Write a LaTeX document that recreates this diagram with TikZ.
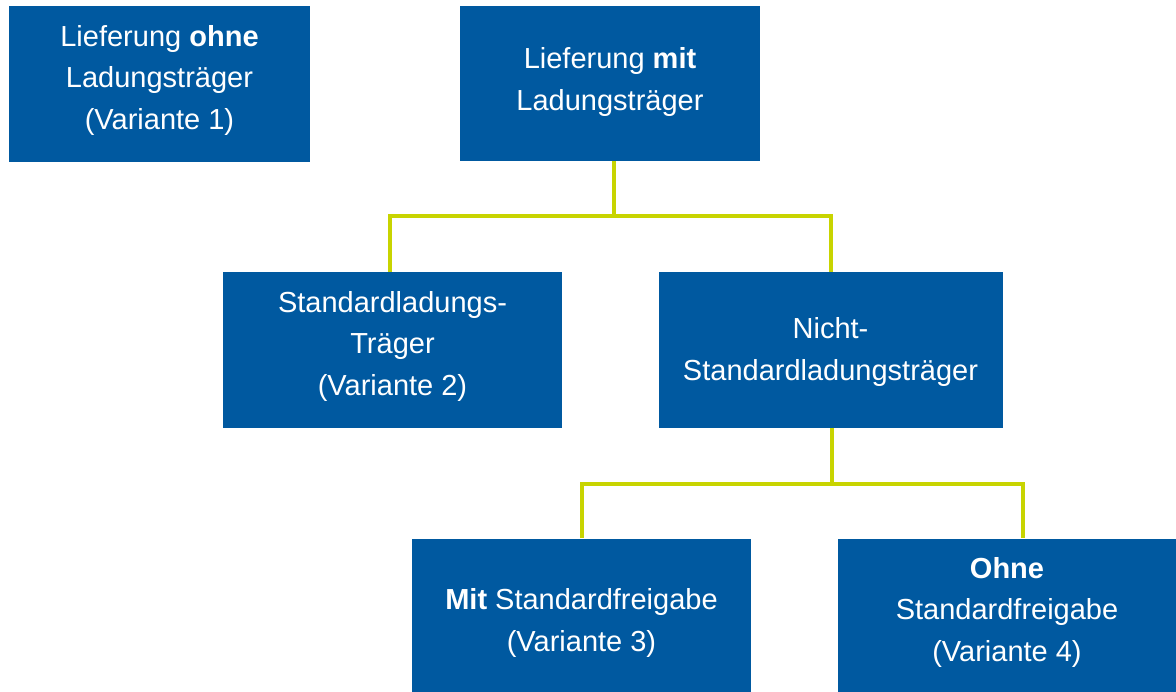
\documentclass[tikz,border=0pt]{standalone}
\usepackage{fontspec}
\setmainfont{Liberation Sans}
\definecolor{boxblue}{HTML}{0059A0}
\definecolor{linegreen}{HTML}{C8D400}
\begin{document}
\begin{tikzpicture}[x=1pt,y=-1pt,
  box/.style={fill=boxblue, inner sep=0pt},
  txt/.style={text=white, align=center, inner sep=0pt,
    font=\fontsize{29}{41.5}\selectfont},
  conn/.style={draw=linegreen, line width=4pt}]
\useasboundingbox (0,0) rectangle (1176,692);
\node[box, minimum width=301pt, minimum height=156pt] (b1) at (159.5,84) {};
\node[box, minimum width=300pt, minimum height=155pt] (b2) at (610,83.5) {};
\node[box, minimum width=339pt, minimum height=156pt] (b3) at (392.5,350) {};
\node[box, minimum width=344pt, minimum height=156pt] (b4) at (830.5,350) {};
\node[box, minimum width=339pt, minimum height=155pt] (b5) at (581.5,616) {};
\node[box, minimum width=338pt, minimum height=155pt] (b6) at (1007,616) {};
\node[txt] (t1) at (159.5,80) {Lieferung \textbf{ohne}\\Ladungsträger\\(Variante 1)};
\node[txt] (t2) at (610,82) {Lieferung \textbf{mit}\\Ladungsträger};
\node[txt] (t3) at (392.5,346) {Standardladungs-\\Träger\\(Variante 2)};
\node[txt] (t4) at (830.5,352) {Nicht-\\Standardladungsträger};
\node[txt] (t5) at (581.5,623) {\textbf{Mit} Standardfreigabe\\(Variante 3)};
\node[txt] (t6) at (1007,612) {\textbf{Ohne}\\Standardfreigabe\\(Variante 4)};
\coordinate (j1) at (614,216);
\coordinate (j2) at (832,484);
\draw[conn] (b2.south -| j1) -- (j1);
\draw[conn] ([xshift=-2.5pt]b3.north) |- (j1) -| (b4.north);
\draw[conn] (b4.south -| j2) -- (j2);
\draw[conn] (b5.north) |- (j2) -| ([xshift=16pt]b6.north);
\end{tikzpicture}
\end{document}
